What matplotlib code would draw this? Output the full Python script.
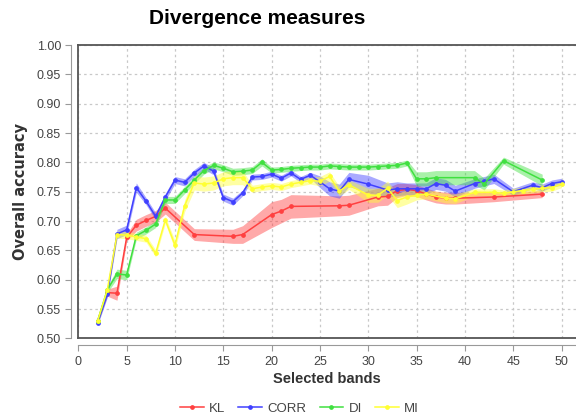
import numpy as np
import matplotlib.pyplot as plt
from matplotlib.lines import Line2D

# number of selected bands / overall accuracy for each divergence measure
kl_x = [2, 3, 4, 5, 6, 7, 8, 9, 12, 16, 17, 20, 21, 22, 27, 28, 31, 32, 33, 34, 35, 36, 37, 38, 39, 43, 48]
kl_y = [0.530, 0.578, 0.577, 0.672, 0.693, 0.701, 0.708, 0.722, 0.677, 0.674, 0.677, 0.711, 0.717, 0.725,
        0.726, 0.727, 0.741, 0.742, 0.752, 0.754, 0.752, 0.746, 0.741, 0.739, 0.739, 0.741, 0.746]
kl_sd = [0.004, 0.006, 0.012, 0.006, 0.010, 0.010, 0.010, 0.010, 0.010, 0.012, 0.015, 0.022, 0.020, 0.020,
         0.017, 0.017, 0.015, 0.015, 0.012, 0.010, 0.010, 0.010, 0.010, 0.010, 0.010, 0.008, 0.006]

corr_x = [2, 3, 4, 5, 6, 7, 8, 9, 10, 11, 12, 13, 14, 15, 16, 17, 18, 19, 20, 21, 22, 23, 24, 25, 26, 27, 28,
          30, 32, 33, 34, 35, 36, 37, 38, 39, 41, 42, 43, 45, 47, 48, 49, 50]
corr_y = [0.527, 0.575, 0.678, 0.685, 0.757, 0.734, 0.708, 0.741, 0.770, 0.766, 0.782, 0.794, 0.785, 0.740,
          0.733, 0.748, 0.775, 0.776, 0.780, 0.773, 0.782, 0.771, 0.778, 0.767, 0.755, 0.751, 0.771,
          0.763, 0.753, 0.755, 0.755, 0.755, 0.755, 0.764, 0.761, 0.751, 0.764, 0.768, 0.772, 0.750,
          0.761, 0.757, 0.764, 0.767]
corr_sd = [0.004, 0.005, 0.008, 0.008, 0.008, 0.006, 0.006, 0.006, 0.006, 0.006, 0.006, 0.006, 0.006, 0.006,
           0.006, 0.005, 0.005, 0.005, 0.005, 0.005, 0.005, 0.005, 0.005, 0.010, 0.012, 0.012, 0.012,
           0.015, 0.012, 0.012, 0.010, 0.010, 0.010, 0.010, 0.010, 0.010, 0.008, 0.008, 0.008, 0.006,
           0.006, 0.006, 0.006, 0.006]

di_x = [2, 3, 4, 5, 6, 7, 8, 9, 10, 11, 12, 13, 14, 15, 16, 17, 18, 19, 20, 21, 22, 23, 24, 25, 26, 27, 28,
        29, 30, 31, 32, 33, 34, 35, 36, 37, 41, 42, 44, 48]
di_y = [0.530, 0.583, 0.610, 0.608, 0.675, 0.684, 0.695, 0.736, 0.736, 0.753, 0.770, 0.786, 0.795, 0.790,
        0.784, 0.785, 0.787, 0.800, 0.787, 0.788, 0.790, 0.791, 0.792, 0.792, 0.794, 0.793, 0.792,
        0.792, 0.792, 0.793, 0.794, 0.795, 0.799, 0.772, 0.772, 0.774, 0.774, 0.763, 0.803, 0.770]
di_sd = [0.004, 0.005, 0.008, 0.008, 0.006, 0.006, 0.006, 0.006, 0.006, 0.006, 0.006, 0.006, 0.006, 0.006,
         0.006, 0.006, 0.006, 0.006, 0.005, 0.005, 0.005, 0.005, 0.005, 0.005, 0.005, 0.005, 0.005,
         0.005, 0.005, 0.005, 0.005, 0.005, 0.005, 0.012, 0.012, 0.012, 0.012, 0.010, 0.006, 0.010]

mi_x = [2, 3, 4, 5, 6, 7, 8, 9, 10, 11, 12, 13, 14, 15, 16, 17, 18, 19, 20, 21, 22, 23, 24, 25, 26, 27, 28,
        30, 31, 32, 33, 34, 35, 36, 38, 39, 41, 43, 44, 45, 46, 47, 48, 49, 50]
mi_y = [0.530, 0.583, 0.677, 0.676, 0.673, 0.670, 0.645, 0.702, 0.659, 0.726, 0.765, 0.763, 0.765, 0.772,
        0.774, 0.774, 0.755, 0.758, 0.760, 0.758, 0.763, 0.766, 0.769, 0.768, 0.776, 0.751, 0.762,
        0.744, 0.744, 0.756, 0.735, 0.741, 0.744, 0.746, 0.739, 0.738, 0.749, 0.749, 0.747, 0.750,
        0.752, 0.754, 0.756, 0.757, 0.763]
mi_sd = [0.004, 0.004, 0.006, 0.006, 0.006, 0.006, 0.006, 0.006, 0.008, 0.010, 0.012, 0.012, 0.012, 0.012,
         0.012, 0.012, 0.006, 0.006, 0.006, 0.006, 0.006, 0.006, 0.006, 0.008, 0.008, 0.008, 0.008,
         0.012, 0.012, 0.012, 0.012, 0.012, 0.008, 0.008, 0.008, 0.008, 0.006, 0.006, 0.006, 0.006,
         0.006, 0.006, 0.006, 0.006, 0.006]

series = [
    ("KL", kl_x, kl_y, kl_sd, "#ff4040"),
    ("CORR", corr_x, corr_y, corr_sd, "#4040ff"),
    ("DI", di_x, di_y, di_sd, "#40e040"),
    ("MI", mi_x, mi_y, mi_sd, "#ffff33"),
]

plt.rcParams['font.family'] = ['Liberation Sans', 'DejaVu Sans']

fig = plt.figure(figsize=(5.76, 4.19), dpi=100)
ax = fig.add_axes([0.136, 0.1924, 0.864, 0.700])

for name, x, y, sd, col in series:
    x = np.array(x)
    y = np.array(y)
    sd = np.array(sd)
    ax.fill_between(x, y - sd, y + sd, color=col, alpha=0.45, lw=0)
    ax.plot(x, y, '-', color=col, lw=1.1, marker='o', ms=2.4, label=name)

ax.set_xlim(0, 51.5)
ax.set_ylim(0.5, 1.0)
ax.set_xticks(np.arange(0, 51, 5))
ax.set_yticks(np.arange(0.5, 1.001, 0.05))
ax.set_yticklabels(["%.2f" % v for v in np.arange(0.5, 1.001, 0.05)])
ax.grid(True, color="#c8c8c8", ls=(0, (2, 2.5)), lw=0.9)
ax.set_axisbelow(True)

for s in ['top', 'right']:
    ax.spines[s].set_visible(False)
for s in ['left', 'bottom']:
    ax.spines[s].set_position(('outward', 5))
    ax.spines[s].set_color("#999999")
ax.tick_params(colors="#999999", labelcolor="#444444", labelsize=9, length=4, width=0.8)

# dark frame of the plot area
for xs, ys in [([0, 0], [0, 1]), ([0, 1], [1, 1]), ([0, 1], [0, 0])]:
    ax.add_line(Line2D(xs, ys, transform=ax.transAxes, color="#555555", lw=1.3, clip_on=False))

ax.set_xlabel("Selected bands", fontsize=10.5, fontweight='bold', color="#333333", labelpad=3)
ax.set_ylabel("Overall accuracy", fontsize=10.5, fontweight='bold', color="#333333",
              family='DejaVu Sans', labelpad=6)
fig.text(0.447, 0.955, "Divergence measures", ha='center', va='center', fontsize=15, fontweight='bold')

fig.legend(loc='center', bbox_to_anchor=(0.52, 0.025), ncol=4, frameon=False, fontsize=9.5,
           handlelength=1.8, handletextpad=0.4, columnspacing=1.0, labelcolor="#444444")

fig.savefig("out.png", dpi=100)
